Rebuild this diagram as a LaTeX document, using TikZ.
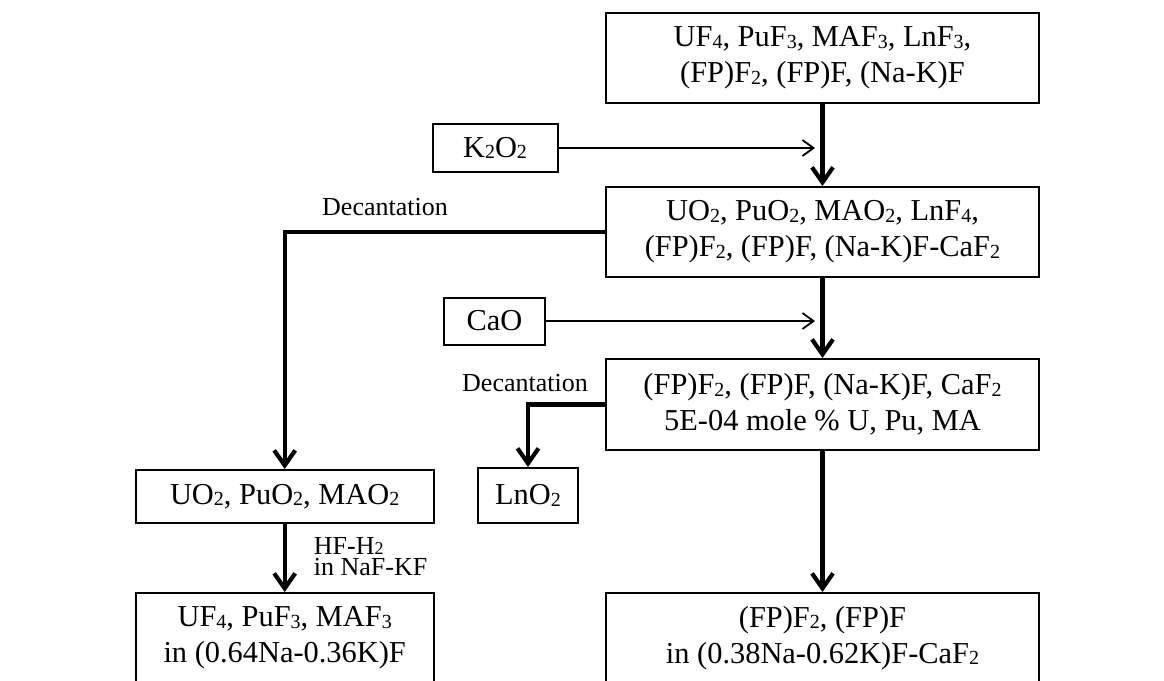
\documentclass[tikz,border=0pt]{standalone}
\usepackage{fontspec}
\setmainfont{Liberation Serif}
\usetikzlibrary{arrows.meta}
\newcommand{\ssub}[1]{\raisebox{-0.8pt}{\fontsize{10}{10}\selectfont #1}}
\newcommand{\lsub}[1]{{\fontsize{9}{9}\selectfont #1}}
\begin{document}
\begin{tikzpicture}[x=0.5pt,y=-0.5pt,
  box/.style={draw, line width=1pt, inner sep=0pt, align=center, font=\fontsize{15.2}{18}\selectfont},
  bigbox/.style={box, minimum width=216.5pt, minimum height=45pt},
  thickarrow/.style={line width=2.1pt, -{Straight Barb[length=7.5pt,width=10.5pt]}},
  thinarrow/.style={line width=0.9pt, -{Straight Barb[length=5.5pt,width=8pt]}},
  lbl/.style={font=\fontsize{13}{10}\selectfont, inner sep=0pt}]
\useasboundingbox (0,0) rectangle (1164,681);
\fill[white] (0,0) rectangle (1164,681);
\clip (0,0) rectangle (1164,681);
% main column
\node[bigbox] (feed) at (822.5,58) {UF\ssub{4}, PuF\ssub{3}, MAF\ssub{3}, LnF\ssub{3},\\(FP)F\ssub{2}, (FP)F, (Na-K)F};
\node[bigbox] (ox) at (822.5,232) {UO\ssub{2}, PuO\ssub{2}, MAO\ssub{2}, LnF\ssub{4},\\(FP)F\ssub{2}, (FP)F, (Na-K)F-CaF\ssub{2}};
\node[bigbox, minimum height=45.5pt] (fp) at (822.5,404.5) {(FP)F\ssub{2}, (FP)F, (Na-K)F, CaF\ssub{2}\\5E-04 mole \% U, Pu, MA};
\node[bigbox] (prod) at (822.5,638) {(FP)F\ssub{2}, (FP)F\\in (0.38Na-0.62K)F-CaF\ssub{2}};
% reagents
\node[box, minimum width=62.5pt, minimum height=24pt] (k2o2) at (495,148) {K\ssub{2}O\ssub{2}};
\node[box, minimum width=50.5pt, minimum height=23.5pt] (cao) at (494.5,321) {CaO};
% side products
\node[box, minimum width=50pt, minimum height=27.5pt] (lno2) at (528,495.5) {LnO\ssub{2}};
\node[box, minimum width=149pt, minimum height=26.5pt] (act) at (284.7,496.5) {UO\ssub{2}, PuO\ssub{2}, MAO\ssub{2}};
\node[box, minimum width=149pt, minimum height=45pt] (actf) at (284.7,638) {UF\ssub{4}, PuF\ssub{3}, MAF\ssub{3}\\in (0.64Na-0.36K)F};
% labels
\node[lbl] (dec1) at (385,207) {Decantation};
\node[lbl] (dec2) at (525,383) {Decantation};
\node[lbl, anchor=west, align=left, font=\fontsize{13}{10.6}\selectfont] (hf) at (313.5,557) {HF-H\lsub{2}\\in NaF-KF};
% coordinates
\coordinate (k2end) at (815,148);
\coordinate (caoend) at (815,321);
% connectors
\draw[thickarrow] (feed) -- (ox);
\draw[thickarrow] (ox) -- (fp);
\draw[thickarrow] (fp) -- (prod);
\draw[thinarrow] (k2o2) -- (k2end);
\draw[thinarrow] (cao) -- (caoend);
\draw[thickarrow] (ox.west) -| (act.north);
\draw[thickarrow] (fp.west) -| (lno2.north);
\draw[thickarrow] (act) -- (actf);
\end{tikzpicture}
\end{document}
